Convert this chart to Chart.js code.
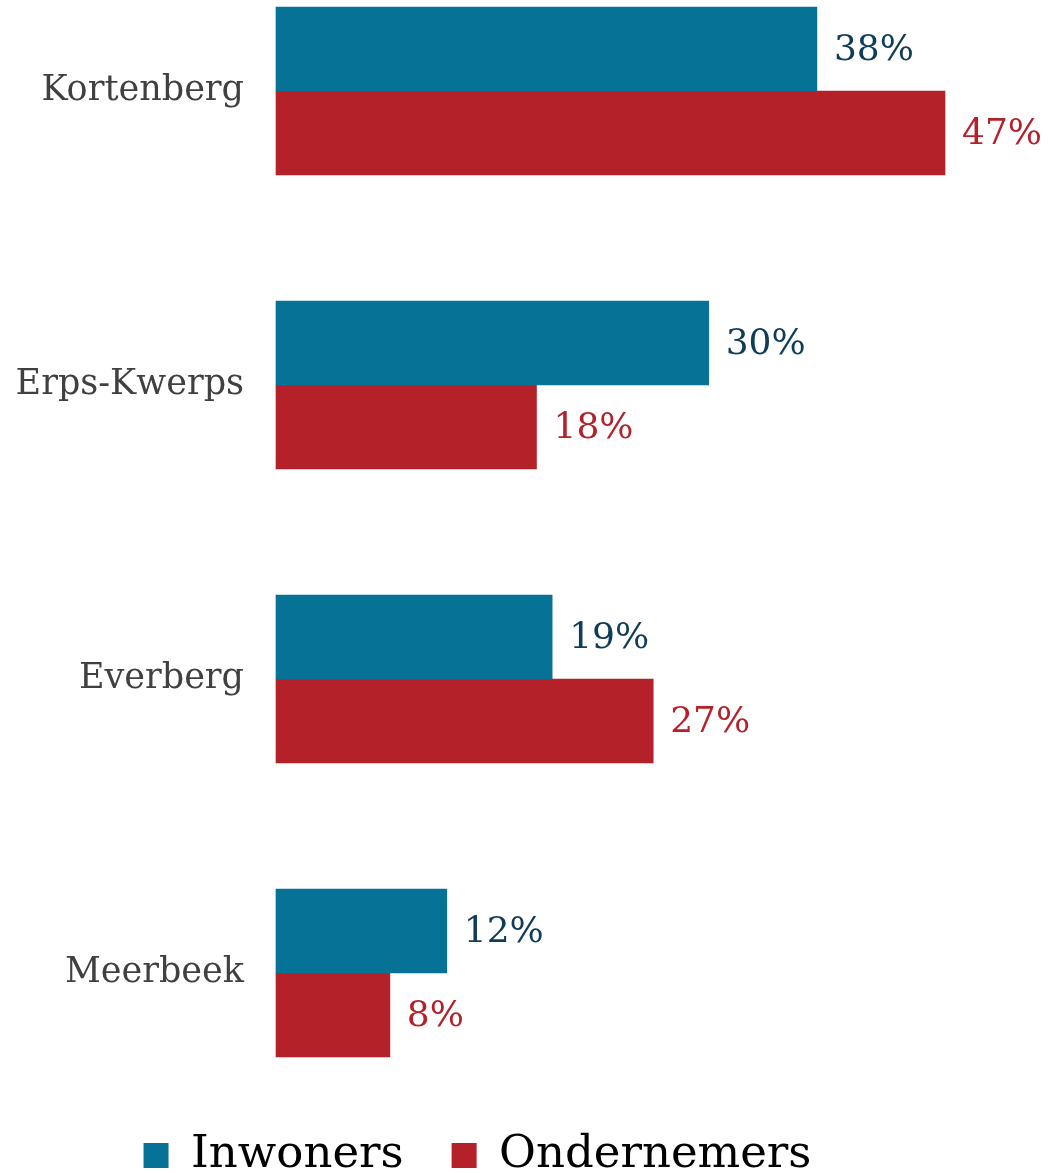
<!DOCTYPE html>
<html>
<head>
<meta charset="utf-8">
<script src="https://cdn.jsdelivr.net/npm/chart.js@4.4.1/dist/chart.umd.min.js"></script>
<style>
  html, body { margin: 0; padding: 0; background: #fff; }
  #wrap { width: 1048px; height: 1173px; position: relative; }
</style>
</head>
<body>
<div id="wrap"><canvas id="chart"></canvas></div>
<script>
// Categories and series (labels as printed)
const categories = ["Kortenberg", "Erps-Kwerps", "Everberg", "Meerbeek"]
const inwoners = [38.0, 30.4, 19.4, 12.0]
const ondernemers = [47.0, 18.3, 26.5, 8.0]
const inwonersLabels = ["38%", "30%", "19%", "12%"]
const ondernemersLabels = ["47%", "18%", "27%", "8%"]

const FONT = "'DejaVu Serif', serif"
const BLUE = "#067396"
const RED = "#B52129"

// Draw value labels just right of each bar
const valueLabels = {
  id: "valueLabels",
  afterDatasetsDraw(chart) {
    const ctx = chart.ctx
    const sets = [
      { labels: inwonersLabels, color: "#0F3C57" },
      { labels: ondernemersLabels, color: "#B3222A" },
    ]
    ctx.save()
    ctx.font = "36px " + FONT
    ctx.textBaseline = "middle"
    ctx.textAlign = "left"
    sets.forEach((s, i) => {
      const meta = chart.getDatasetMeta(i)
      meta.data.forEach((bar, j) => {
        ctx.fillStyle = s.color
        ctx.fillText(s.labels[j], bar.x + 17, bar.y + 2)
      })
    })
    ctx.restore()
  },
}

const ctx = document.getElementById("chart").getContext("2d")
new Chart(ctx, {
  type: "bar",
  data: {
    labels: categories,
    datasets: [
      { label: "Inwoners", data: inwoners, backgroundColor: BLUE },
      { label: "Ondernemers", data: ondernemers, backgroundColor: RED },
    ],
  },
  options: {
    indexAxis: "y",
    responsive: true,
    maintainAspectRatio: false,
    animation: false,
    datasets: {
      bar: { barThickness: 84, clip: false },
    },
    layout: {
      padding: { top: 91, left: 10, right: 103, bottom: -15 },
    },
    scales: {
      x: {
        min: 0,
        max: 47,
        grid: { display: false, drawTicks: false },
        border: { display: false },
        ticks: { display: false },
        afterFit(scale) {
          scale.height = 112
        },
      },
      y: {
        offset: false,
        grid: { display: false, drawTicks: false },
        border: { display: false },
        ticks: {
          padding: 32,
          color: "#404040",
          font: { family: FONT, size: 35 },
        },
        afterFit(scale) {
          scale.width = 266
        },
      },
    },
    plugins: {
      tooltip: { enabled: false },
      legend: {
        position: "bottom",
        labels: {
          boxWidth: 25,
          boxHeight: 25,
          padding: 48,
          color: "#000",
          font: { family: FONT, size: 45 },
        },
      },
    },
  },
  plugins: [valueLabels],
})
</script>
</body>
</html>
